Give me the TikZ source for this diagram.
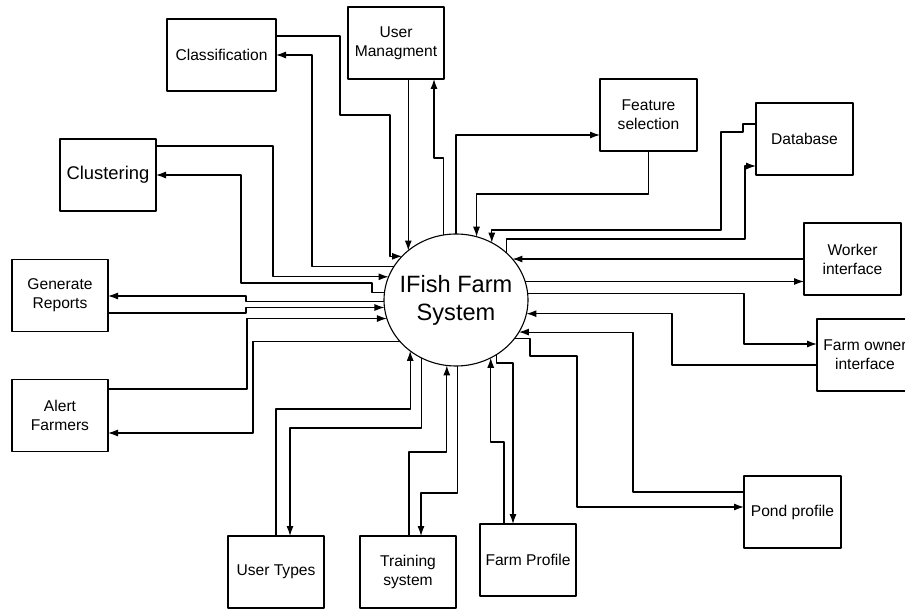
\documentclass[tikz,border=0pt]{standalone}
\usepackage{fontspec}
\setmainfont{Liberation Sans}
\usetikzlibrary{shapes,calc,arrows.meta}

\begin{document}
\begin{tikzpicture}[x=1pt, y=-1pt, line join=round, >={Latex[length=10pt,width=7pt]}, line width=1.1pt,
	box/.style={draw, rectangle, inner sep=0pt, outer sep=0pt, minimum width=96, minimum height=72, align=center, font=\fontsize{15.6}{19}\selectfont},
	hub/.style={draw, ellipse, inner xsep=-6pt, inner ysep=0pt, outer sep=0pt, minimum width=144, minimum height=132, align=center, font=\fontsize{23.6}{28}\selectfont}]

			\useasboundingbox (0,0) rectangle (905,609);

			\node[hub] (sys) at (456,300) {IFish Farm\\System};

			\node[box, minimum width=109] (cls) at (221.5,55) {Classification};

			\node[box] (um) at (396,43) {User\\Managment};

			\node[box, minimum width=97] (fs) at (648.5,115) {Feature\\selection};

			\node[box, minimum width=97] (db) at (804.5,139) {Database};

			\node[box, minimum width=97] (wi) at (852.5,259) {Worker\\interface};

			\node[box, font=\fontsize{18.4}{22}\selectfont] (clu) at (108,175) {Clustering};

			\node[box] (gr) at (60,295.5) {Generate\\Reports};

			\node[box] (af) at (60,415.5) {Alert\\Farmers};

			\node[box] (ut) at (276,572) {User Types};

			\node[box] (ts) at (408,572) {Training\\system};

			\node[box] (fp) at (528,560) {Farm Profile};

			\node[box] (fo) at (865,355) {Farm owner\\interface};

			\node[box, minimum width=97] (pp) at (792.5,512) {Pond profile};

			\draw[->] (cls.east |- 0,36) -- (340,36) -- (340,115) -- (390,115) |- (sys.141);

			\draw[->] (sys.152) -| (312,55) -- (cls.east |- 0,55);

			\draw[<-] (sys.134) -- (sys.134 |- um.south);

			\draw[->] (sys.101) |- (434,158) -- (434,158 |- um.south);

			\draw[->] (sys.90) |- (fs.west |- 0,135);

			\draw[<-] (sys.72.5) |- (fs.south |- 0,194) -- (fs.south);

			\draw[<-] (sys.58) |- (721,230) -- (721,132) -- (743,132) -- (743,124) -- (db.west |- 0,124);

			\draw[->] (sys.43.5) |- (745,239) |- (db.west |- 0,166);

			\draw[<-] (sys.36) -- (sys.36 -| wi.west);

			\draw[->] (sys.15) -- (sys.15 -| wi.west);

			\draw[->] (sys.5) -| (744,344) -- (fo.west |- 0,344);

			\draw[<-] (sys.349) -| (672,365) -- (fo.west |- 0,365);

			\draw[->] (sys.327) -| (530,356) -| (577,507) -- (pp.west |- 0,507);

			\draw[<-] (sys.333) -| (633,492) -- (pp.west |- 0,492);

			\draw[->] (sys.307) |- (513,363) -- (513,363 |- fp.north);

			\draw[<-] (sys.301) |- (504,442) -- (504,442 |- fp.north);

			\draw[->] (sys.271) |- (421,493) -- (421,493 |- ts.north);

			\draw[<-] (sys.262) |- (409,452) -- (409,452 |- ts.north);

			\draw[->] (sys.239) |- (290,428) -- (290,428 |- ut.north);

			\draw[<-] (sys.228) |- (276,409) -- (276,409 |- ut.north);

			\draw[->] (sys.217) -| (253,433) -- (af.east |- 0,433);

			\draw[<-] (sys.195) -| (247,389) -- (af.east |- 0,389);

			\draw[<-] (sys.186) -| (246,313) -- (gr.east |- 0,313);

			\draw[->] (sys.181) -| (246,296) -- (gr.east |- 0,296);

			\draw[<-] (sys.161) -| (273,146) -- (clu.east |- 0,146);

			\draw[->] (sys.174) -| (372,283) -| (241,175) -- (clu.east |- 0,175);

	\end{tikzpicture}
\end{document}
